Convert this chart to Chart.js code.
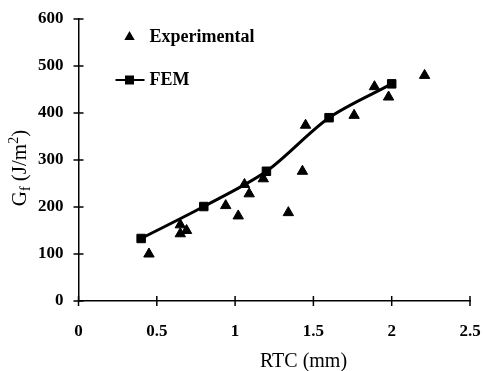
<!DOCTYPE html>
<html>
<head>
<meta charset="utf-8">
<script src="https://cdn.jsdelivr.net/npm/chart.js@4.4.1/dist/chart.umd.min.js"></script>
<style>
  html, body { margin: 0; padding: 0; background: #fff; }
  #wrap { width: 484px; height: 371px; }
</style>
</head>
<body>
<div id="wrap"><canvas id="gfChart" width="484" height="371"></canvas></div>
<script>
// Experimental points (RTC in mm, Gf in J/m2)
const rtcExp = [0.45, 0.65, 0.65, 0.69, 0.94, 1.02, 1.06, 1.09, 1.18, 1.34, 1.43, 1.45, 1.76, 1.89, 1.98, 2.21];
const gfExp  = [100, 162, 143, 150, 203, 181, 248, 228, 260, 188, 276, 374, 395, 456, 434, 480];

// FEM curve
const rtcFem = [0.4, 0.8, 1.2, 1.6, 2.0];
const gfFem  = [133, 201, 276, 390, 462];

const xTicks = [0, 0.5, 1, 1.5, 2, 2.5];
const yTicks = [0, 100, 200, 300, 400, 500, 600];

const serif = "'Liberation Serif', 'Times New Roman', serif";

// ticks that cross the axis lines, like the original
const crossTicks = {
    id: 'crossTicks',
    afterDraw(chart) {
        const ctx = chart.ctx;
        const x = chart.scales.x, y = chart.scales.y;
        const area = chart.chartArea;
        ctx.save();
        ctx.strokeStyle = '#000';
        ctx.lineWidth = 1.5;
        ctx.beginPath();
        xTicks.forEach(v => {
            const px = x.getPixelForValue(v);
            ctx.moveTo(px, area.bottom - 5);
            ctx.lineTo(px, area.bottom + 5);
        });
        yTicks.forEach(v => {
            const py = y.getPixelForValue(v);
            ctx.moveTo(area.left - 5, py);
            ctx.lineTo(area.left + 5, py);
        });
        ctx.stroke();
        ctx.restore();
    }
};

// axis titles (Gf has a subscript and a superscript)
const axisTitles = {
    id: 'axisTitles',
    afterDraw(chart) {
        const ctx = chart.ctx;
        const area = chart.chartArea;
        ctx.save();
        ctx.fillStyle = '#000';
        ctx.textBaseline = 'alphabetic';

        ctx.font = '20px ' + serif;
        ctx.textAlign = 'center';
        ctx.fillText('RTC (mm)', area.left + 225, 367);

        const big = '21px ' + serif, small = '14px ' + serif;
        const parts = [
            { t: 'G', f: big, dy: 0 },
            { t: 'f', f: small, dy: 4 },
            { t: ' (J/m', f: big, dy: 0 },
            { t: '2', f: small, dy: -8 },
            { t: ')', f: big, dy: 0 }
        ];
        let total = 0;
        parts.forEach(p => { ctx.font = p.f; p.w = ctx.measureText(p.t).width; total += p.w; });
        ctx.translate(26, 168);
        ctx.rotate(-Math.PI / 2);
        ctx.textAlign = 'left';
        let cx = -total / 2;
        parts.forEach(p => {
            ctx.font = p.f;
            ctx.fillText(p.t, cx, p.dy);
            cx += p.w;
        });
        ctx.restore();
    }
};

// legend drawn inside the plot, top left
const innerLegend = {
    id: 'innerLegend',
    afterDraw(chart) {
        const ctx = chart.ctx;
        const area = chart.chartArea;
        const ds = chart.data.datasets;
        const lx = area.left + 51;
        const tx = area.left + 71;
        const y1 = area.top + 18;
        const y2 = area.top + 61;
        ctx.save();
        ctx.fillStyle = '#000';
        ctx.strokeStyle = '#000';

        // triangle
        const r = 6;
        ctx.beginPath();
        ctx.moveTo(lx, y1 - r);
        ctx.lineTo(lx + r * Math.sin(2 * Math.PI / 3), y1 + r / 2);
        ctx.lineTo(lx - r * Math.sin(2 * Math.PI / 3), y1 + r / 2);
        ctx.closePath();
        ctx.fill();

        // line + square
        ctx.lineWidth = 2;
        ctx.beginPath();
        ctx.moveTo(lx - 14, y2);
        ctx.lineTo(lx + 15, y2);
        ctx.stroke();
        ctx.fillRect(lx - 4.5, y2 - 4.5, 9, 9);

        ctx.font = 'bold 18px ' + serif;
        ctx.textAlign = 'left';
        ctx.textBaseline = 'middle';
        ctx.fillText(ds[0].label, tx, y1);
        ctx.fillText(ds[1].label, tx, y2);
        ctx.restore();
    }
};

const chart = new Chart(document.getElementById('gfChart').getContext('2d'), {
    type: 'scatter',
    data: {
        datasets: [{
            label: 'Experimental',
            data: rtcExp.map((v, i) => ({ x: v, y: gfExp[i] })),
            pointStyle: 'triangle',
            pointRadius: 6,
            pointHoverRadius: 6,
            backgroundColor: '#000',
            borderColor: '#000',
            pointBorderWidth: 1,
            showLine: false
        }, {
            label: 'FEM',
            data: rtcFem.map((v, i) => ({ x: v, y: gfFem[i] })),
            pointStyle: 'rect',
            pointRadius: 6,
            pointHoverRadius: 6,
            backgroundColor: '#000',
            borderColor: '#000',
            borderWidth: 3,
            pointBorderWidth: 1,
            showLine: true,
            tension: 0.3
        }]
    },
    options: {
        responsive: false,
        animation: false,
        layout: { padding: { left: 0, top: 19, right: 14, bottom: 0 } },
        plugins: {
            legend: { display: false },
            tooltip: { enabled: false }
        },
        scales: {
            x: {
                type: 'linear',
                min: 0,
                max: 2.5,
                afterBuildTicks: scale => { scale.ticks = xTicks.map(v => ({ value: v })); },
                afterFit: scale => {
                    scale.height = 70;
                    scale.paddingLeft = 0;
                    scale.paddingRight = 0;
                },
                grid: { display: false },
                border: { display: true, color: '#000', width: 1.5 },
                ticks: {
                    color: '#000',
                    padding: 12,
                    maxRotation: 0,
                    font: { family: serif, size: 17, weight: 'bold' },
                    callback: v => String(v)
                }
            },
            y: {
                type: 'linear',
                min: 0,
                max: 600,
                afterBuildTicks: scale => { scale.ticks = yTicks.map(v => ({ value: v })); },
                afterFit: scale => {
                    scale.width = 78.5;
                    scale.paddingTop = 0;
                    scale.paddingBottom = 0;
                },
                grid: { display: false },
                border: { display: true, color: '#000', width: 1.5 },
                ticks: {
                    color: '#000',
                    padding: 7,
                    font: { family: serif, size: 17, weight: 'bold' },
                    callback: v => String(v)
                }
            }
        }
    },
    plugins: [crossTicks, axisTitles, innerLegend]
});
</script>
</body>
</html>
